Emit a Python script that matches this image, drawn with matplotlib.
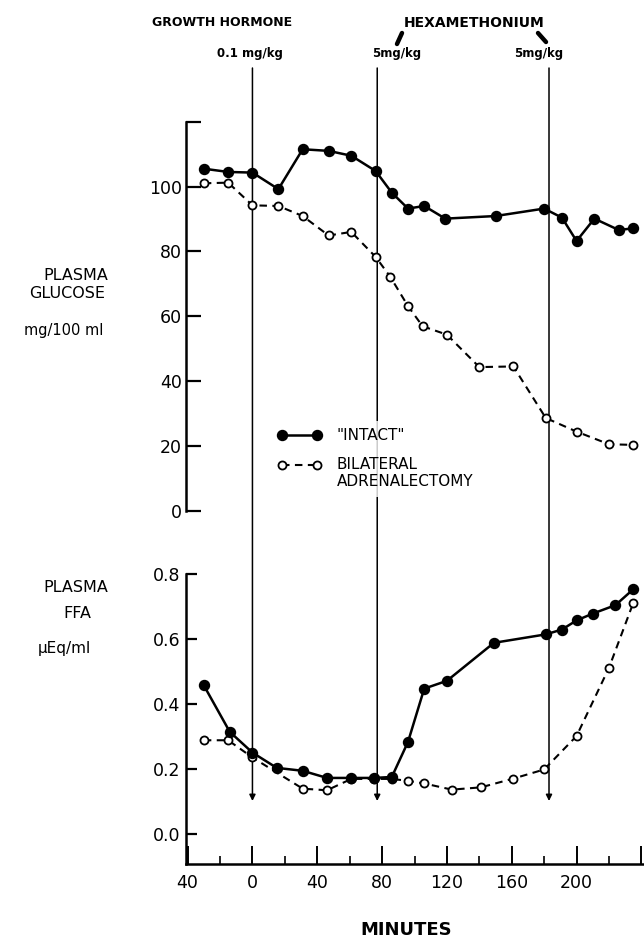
import matplotlib
matplotlib.use("Agg")
import numpy as np
import matplotlib.pyplot as plt
import matplotlib.transforms as mtransforms
from matplotlib.lines import Line2D
from matplotlib.patches import FancyArrowPatch

# ---------------- data ----------------
glu_intact_t = [-30, -15, 0, 16, 31, 47, 61, 76, 86, 96, 106, 119, 150, 180, 191, 200, 211, 226, 235]
glu_intact = [105.5, 104.5, 104.3, 99.2, 111.5, 111, 109.5, 104.8, 98.1, 93.2, 94, 90.1, 90.9, 93.2,
              90.4, 83.2, 90.1, 86.6, 87.1]
glu_adx_t = [-30, -15, 0, 16, 31, 47, 61, 76, 85, 96, 105, 120, 140, 161, 181, 200, 220, 235]
glu_adx = [101, 101.2, 94.2, 94, 90.9, 84.9, 86, 78.3, 72.2, 63.1, 56.9, 54.3, 44.3, 44.5, 28.6,
           24.4, 20.5, 20.3]

ffa_intact_t = [-30, -14, 0, 15, 31, 46, 61, 75, 86, 96, 106, 120, 149, 181, 191, 200, 210, 224, 235]
ffa_intact = [0.458, 0.315, 0.251, 0.204, 0.195, 0.173, 0.173, 0.173, 0.176, 0.284, 0.448, 0.472,
              0.589, 0.615, 0.630, 0.658, 0.679, 0.705, 0.754]
ffa_adx_t = [-30, -15, 0, 31, 46, 61, 75, 86, 96, 106, 123, 141, 161, 180, 200, 220, 235]
ffa_adx = [0.289, 0.289, 0.236, 0.14, 0.135, 0.17, 0.17, 0.17, 0.164, 0.156, 0.137, 0.144, 0.171,
           0.199, 0.302, 0.512, 0.712]

event_times = [0, 77, 183]
event_doses = ["0.1 mg/kg", "5mg/kg", "5mg/kg"]

glu_ticks = [0, 20, 40, 60, 80, 100, 120]
glu_ticklabels = ["0", "20", "40", "60", "80", "100", ""]
ffa_ticks = [0.0, 0.2, 0.4, 0.6, 0.8]
ffa_ticklabels = ["0.0", "0.2", "0.4", "0.6", "0.8"]
x_major = [-40, 0, 40, 80, 120, 160, 200, 240]
x_major_labels = ["40", "0", "40", "80", "120", "160", "200", ""]
x_minor = [-20, 20, 60, 100, 140, 180, 220]

# ---------------- figure ----------------
W, H = 644, 940
fig = plt.figure(figsize=(W / 100, H / 100), dpi=100)
plt.rcParams["font.family"] = ["DejaVu Sans"]

def fx(px):
    return px / W

def fy(py):
    return 1 - py / H

XL = (-41, 241)
ax1 = fig.add_axes([fx(186), fy(510.7), fx(643) - fx(186), (510.7 - 121.7) / H])
ax2 = fig.add_axes([fx(186), fy(864), fx(643) - fx(186), (864 - 574.3) / H])
for ax in (ax1, ax2):
    ax.patch.set_visible(False)
    ax.set_xlim(*XL)
    for s in ("top", "right"):
        ax.spines[s].set_visible(False)
    ax.spines["left"].set_linewidth(1.8)

ax1.set_ylim(0, 120)
ax1.spines["bottom"].set_visible(False)
ax1.set_xticks([])
ax1.set_yticks(glu_ticks)
ax1.set_yticklabels(glu_ticklabels)
ax1.tick_params(axis="y", direction="in", length=11, width=1.6, pad=3, labelsize=12.5)

ax2.set_ylim(-0.092, 0.8)
ax2.spines["bottom"].set_linewidth(1.8)
ax2.set_yticks(ffa_ticks)
ax2.set_yticklabels(ffa_ticklabels)
ax2.tick_params(axis="y", direction="in", length=8, width=1.6, pad=4, labelsize=12.5)
ax2.set_xticks(x_major)
ax2.set_xticklabels(x_major_labels)
ax2.set_xticks(x_minor, minor=True)
ax2.tick_params(axis="x", which="major", direction="in", length=13, width=1.4, pad=7, labelsize=12.5)
ax2.tick_params(axis="x", which="minor", direction="in", length=6, width=1.2)

solid_kw = dict(color="black", lw=1.8, marker="o", ms=7.2, mfc="black", mec="black", zorder=4)
dash_kw = dict(color="black", lw=1.5, ls=(0, (3.6, 2.6)), marker="o", ms=5.8, mfc="white",
               mec="black", mew=1.3, zorder=3)

h1, = ax1.plot(glu_intact_t, glu_intact, label='"INTACT"', **solid_kw)
h2, = ax1.plot(glu_adx_t, glu_adx, label="BILATERAL\nADRENALECTOMY", **dash_kw)
ax2.plot(ffa_intact_t, ffa_intact, **solid_kw)
ax2.plot(ffa_adx_t, ffa_adx, **dash_kw)

for a in (ax1, ax2):
    for ln in a.lines:
        ln.set_clip_on(False)

leg = ax1.legend(handles=[h1, h2], loc="upper left",
                 bbox_to_anchor=(fx(262), fy(413)), bbox_transform=fig.transFigure,
                 numpoints=2, handlelength=2.9, handletextpad=1.0, fontsize=11,
                 frameon=True, fancybox=False, borderpad=0.5, labelspacing=0.9)
leg.get_frame().set_facecolor("white")
leg.get_frame().set_edgecolor("none")

# align the open-circle handle with the first line of its two-line label
try:
    rows = [r for col in leg._legend_handle_box.get_children() for r in col.get_children()]
    da = rows[1].get_children()[0]
    for art in da.get_children():
        if isinstance(art, Line2D):
            art.set_ydata(np.asarray(art.get_ydata(), dtype=float) + 6.3)
except Exception:
    pass

# ---------------- event lines ----------------
btr = mtransforms.blended_transform_factory(ax2.transData, fig.transFigure)
for t in event_times:
    arr = FancyArrowPatch((t, fy(68)), (t, fy(801)), transform=btr,
                          arrowstyle="-|>", mutation_scale=9, lw=1.1, color="black",
                          shrinkA=0, shrinkB=0, zorder=-1)
    fig.add_artist(arr)

# dose labels above event lines
offs = [(-3, "center"), (-5, "left"), (-10, "center")]
for t, lab, (dx, ha) in zip(event_times, event_doses, offs):
    tr = btr + mtransforms.ScaledTranslation(dx / 100, 0, fig.dpi_scale_trans)
    fig.text(t, fy(53), lab, transform=tr, ha=ha, va="center", fontsize=8.5, fontweight="bold")

fig.text(fx(222), fy(22), "GROWTH HORMONE", ha="center", va="center", fontsize=9, fontweight="bold")
fig.text(fx(474), fy(23), "HEXAMETHONIUM", ha="center", va="center", fontsize=10, fontweight="bold")
fig.add_artist(Line2D([fx(402), fx(397)], [fy(33), fy(44)], transform=fig.transFigure,
                      color="black", lw=3.2, solid_capstyle="round"))
fig.add_artist(Line2D([fx(538), fx(546)], [fy(33), fy(42)], transform=fig.transFigure,
                      color="black", lw=3.2, solid_capstyle="round"))

# ---------------- axis titles ----------------
fig.text(fx(76), fy(275), "PLASMA", ha="center", va="center", fontsize=11.5)
fig.text(fx(67), fy(294), "GLUCOSE", ha="center", va="center", fontsize=11.5)
fig.text(fx(64), fy(330), "mg/100 ml", ha="center", va="center", fontsize=10.5)

fig.text(fx(76), fy(588), "PLASMA", ha="center", va="center", fontsize=11.5)
fig.text(fx(77), fy(613), "FFA", ha="center", va="center", fontsize=11.5)
fig.text(fx(64), fy(648), "μEq/ml", ha="center", va="center", fontsize=11)

fig.text(fx(406), fy(930), "MINUTES", ha="center", va="center", fontsize=13, fontweight="bold")

fig.savefig("out.png", dpi=100)
